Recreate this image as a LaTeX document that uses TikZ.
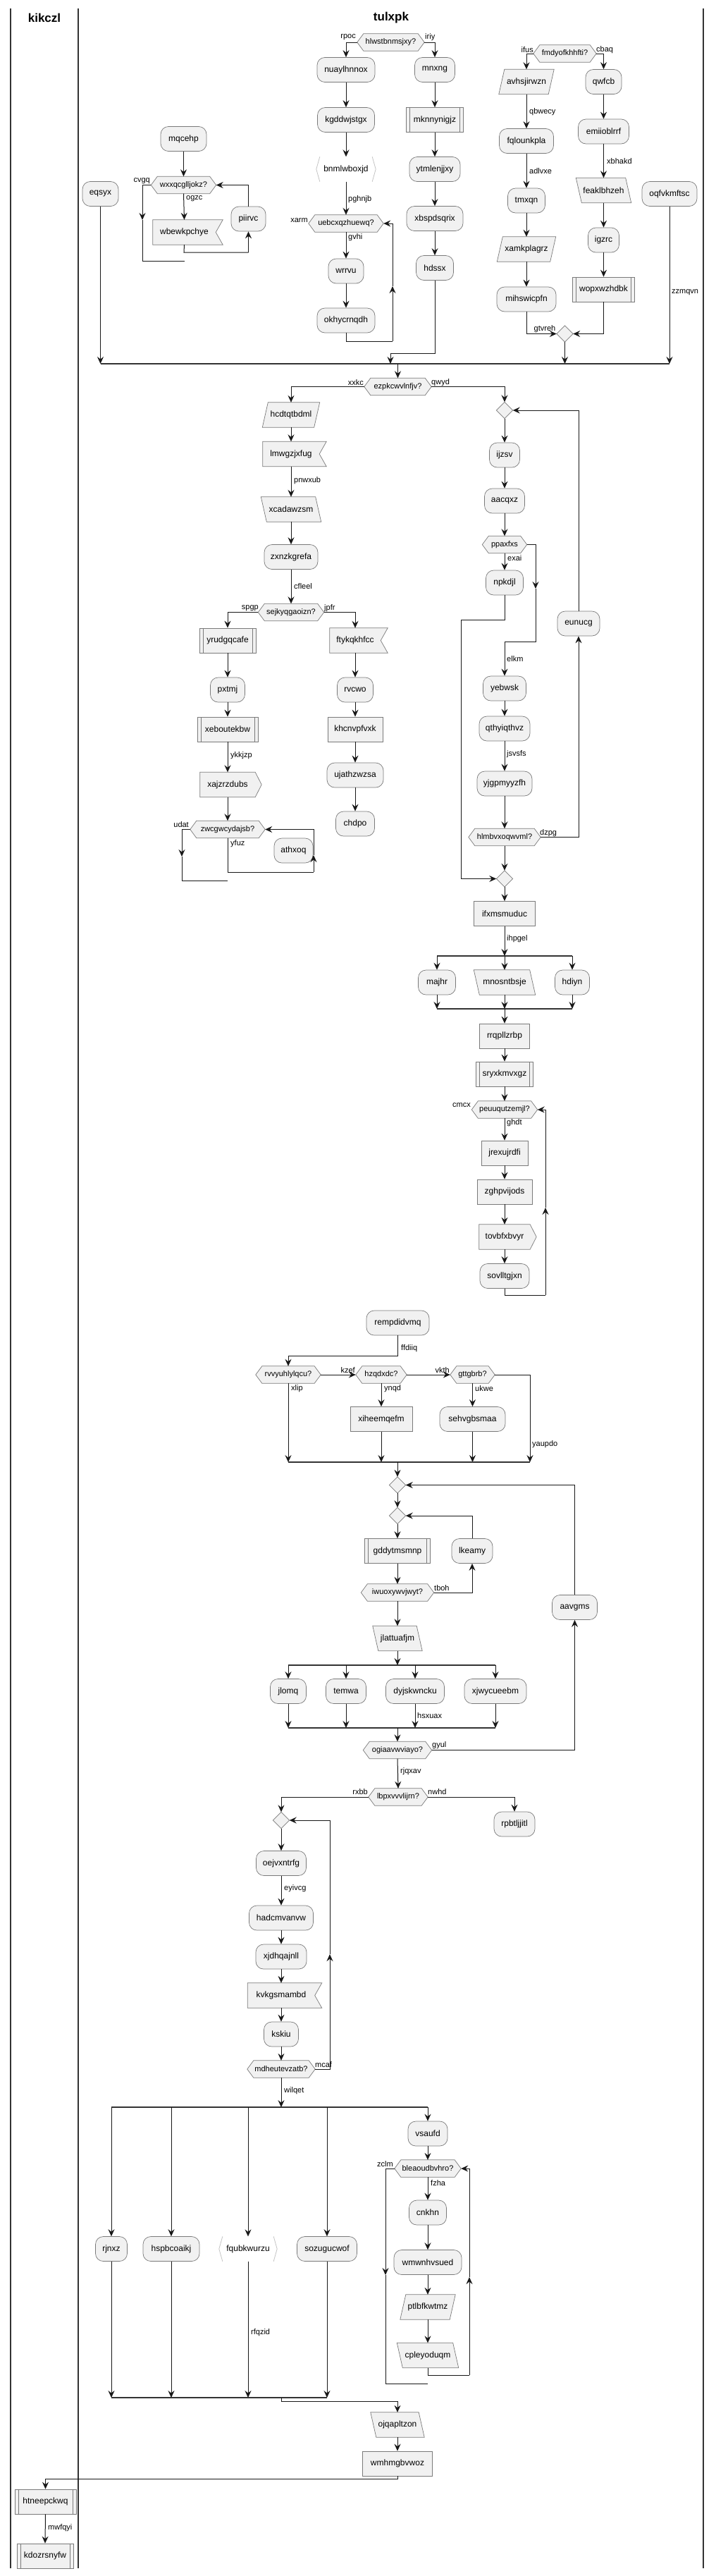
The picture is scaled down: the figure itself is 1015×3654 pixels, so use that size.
\documentclass[tikz,border=0pt]{standalone}
\usepackage{fontspec}
\setmainfont{Liberation Sans}
\usetikzlibrary{arrows.meta}
\pgfdeclarelayer{bg}
\pgfsetlayers{bg,main}
\definecolor{nfill}{HTML}{F1F1F1}
\definecolor{nbord}{HTML}{7A7A7A}
\definecolor{lcol}{HTML}{181818}
\definecolor{chevc}{HTML}{C4C4C4}
\newcommand\nfont{\fontsize{12}{14}\selectfont}
\newcommand\sfont{\fontsize{11}{13}\selectfont}
\tikzset{
 base/.style={inner sep=0pt, minimum height=35pt, font=\nfont, text=black, align=center},
 pact/.style={base, draw=nbord, fill=nfill, line width=0.7pt, rounded corners=11pt},
 prect/.style={base, draw=nbord, fill=nfill, line width=0.7pt},
 psub/.style={prect, path picture={\draw[nbord, line width=0.7pt] ([xshift=5pt]path picture bounding box.north west) -- ([xshift=5pt]path picture bounding box.south west) ([xshift=-5pt]path picture bounding box.north east) -- ([xshift=-5pt]path picture bounding box.south east);}},
 pinv/.style={base},
 phext/.style={inner sep=0pt, minimum height=24pt, font=\sfont, text=black, align=center},
 pmrg/.style={inner sep=0pt, minimum width=23pt, minimum height=23pt},
 shp/.style={draw=nbord, fill=nfill, line width=0.7pt},
 chev/.style={draw=chevc, line width=0.8pt},
 ln/.style={draw=lcol, line width=1pt},
 arr/.style={ln, -{Stealth[length=10pt,width=9pt,inset=3.5pt]}},
 fbar/.style={draw=black!80, line width=2.5pt},
 lane/.style={draw=black!80, line width=1.6pt},
 lbl/.style={font=\sfont, inner sep=0pt, text=black},
 ttl/.style={font=\bfseries\fontsize{17}{20}\selectfont, inner sep=0pt},
}
\newcommand\ndA[5]{\node[pact, minimum width=#4pt] (#1) at (#2,#3) {#5};}
\newcommand\ndR[5]{\node[prect, minimum width=#4pt] (#1) at (#2,#3) {#5};}
\newcommand\ndS[5]{\node[psub, minimum width=#4pt] (#1) at (#2,#3) {#5};}
\newcommand\ndH[5]{\node[phext, minimum width=#4pt] (#1) at (#2,#3) {#5};
 \begin{pgfonlayer}{bg}\path[shp] (#1.west) -- ([xshift=9pt]#1.north west) -- ([xshift=-9pt]#1.north east) -- (#1.east) -- ([xshift=-9pt]#1.south east) -- ([xshift=9pt]#1.south west) -- cycle;\end{pgfonlayer}}
\newcommand\ndP[5]{\node[pinv, minimum width=#4pt] (#1) at (#2,#3) {#5};
 \begin{pgfonlayer}{bg}\path[shp] (#1.south west) -- ([xshift=8pt]#1.north west) -- (#1.north east) -- ([xshift=-8pt]#1.south east) -- cycle;\end{pgfonlayer}}
\newcommand\ndQ[5]{\node[pinv, minimum width=#4pt] (#1) at (#2,#3) {#5};
 \begin{pgfonlayer}{bg}\path[shp] (#1.north west) -- ([xshift=-8pt]#1.north east) -- (#1.south east) -- ([xshift=8pt]#1.south west) -- cycle;\end{pgfonlayer}}
\newcommand\ndF[5]{\node[pinv, minimum width=#4pt] (#1) at (#2,#3) {#5};
 \begin{pgfonlayer}{bg}\path[shp] (#1.north west) -- ([xshift=10pt]#1.north east) -- (#1.east) -- ([xshift=10pt]#1.south east) -- (#1.south west) -- cycle;\end{pgfonlayer}}
\newcommand\ndT[5]{\node[pinv, minimum width=#4pt] (#1) at (#2,#3) {#5};
 \begin{pgfonlayer}{bg}\path[shp] (#1.north west) -- (#1.north east) -- ([xshift=9pt]#1.east) -- (#1.south east) -- (#1.south west) -- cycle;\end{pgfonlayer}}
\newcommand\ndC[5]{\node[pinv, minimum width=#4pt] (#1) at (#2,#3) {#5};
 \path[chev] ([xshift=5pt]#1.north west) -- (#1.west) -- ([xshift=5pt]#1.south west);
 \path[chev] ([xshift=-5pt]#1.north east) -- (#1.east) -- ([xshift=-5pt]#1.south east);}
\newcommand\ndM[3]{\node[pmrg] (#1) at (#2,#3) {};
 \begin{pgfonlayer}{bg}\path[shp] (#1.north) -- (#1.east) -- (#1.south) -- (#1.west) -- cycle;\end{pgfonlayer}}
\newcommand\cn[2]{\draw[arr] (#1.south) -- (#2.north);}
\newcommand\lbW[3]{\node[lbl, anchor=west] (lb#3) at (#1,#2) {#3};}
\newcommand\lbE[3]{\node[lbl, anchor=east] (lb#3) at (#1,#2) {#3};}
\newcommand\lbC[3]{\node[lbl] (lb#3) at (#1,#2) {#3};}
\begin{document}
\begin{tikzpicture}[x=1pt,y=-1pt]
\useasboundingbox (0,0) rectangle (1015,3654);
\begin{pgfonlayer}{bg}\fill[white] (0,0) rectangle (1015,3654);\end{pgfonlayer}
% lanes
\coordinate (la1) at (15,12); \coordinate (la2) at (15,3643);
\coordinate (lb1) at (111,12); \coordinate (lb2) at (111,3643);
\coordinate (lc1) at (998,12); \coordinate (lc2) at (998,3643);
\draw[lane] (la1) -- (la2); \draw[lane] (lb1) -- (lb2); \draw[lane] (lc1) -- (lc2);
\node[ttl] (t1) at (63,25) {kikczl};
\node[ttl] (t2) at (555,25) {tulxpk};
% ---------- top section ----------
\ndA{eqsyx}{142.5}{275}{51}{eqsyx}
\ndA{mqcehp}{260.5}{197}{65}{mqcehp}
\ndH{wxxq}{260.5}{262.5}{92}{wxxqcglljokz?}
\ndF{wbew}{261.5}{329.5}{89}{wbewkpchye}
\ndA{piirvc}{352.5}{310.5}{49}{piirvc}
\ndH{hlw}{554.5}{60}{95}{hlwstbnmsjxy?}
\ndA{nuay}{491}{99}{82}{nuaylhnnox}
\ndA{kgdd}{491}{170}{81}{kgddwjstgx}
\ndC{bnml}{491}{240}{84}{bnmlwboxjd}
\ndH{uebc}{491}{317}{106}{uebcxqzhuewq?}
\ndA{wrrvu}{491}{384.5}{50}{wrrvu}
\ndA{okhy}{491}{454.5}{82}{okhycrnqdh}
\ndA{mnxng}{617}{99}{57}{mnxng}
\ndS{mknn}{617}{170}{81}{mknnynigjz}
\ndA{ytml}{617}{240}{72}{ytmlenjjxy}
\ndA{xbsp}{617}{310}{80}{xbspdsqrix}
\ndA{hdssx}{617}{380}{53}{hdssx}
\ndH{fmdy}{801.5}{76}{89}{fmdyofkhhfti?}
\ndP{avhs}{747}{116}{78}{avhsjirwzn}
\ndA{fqlo}{747}{200}{77}{fqlounkpla}
\ndA{tmxqn}{747}{284.5}{53}{tmxqn}
\ndP{xamk}{747}{353.5}{83}{xamkplagrz}
\ndA{mihs}{747}{424.5}{84}{mihswicpfn}
\ndA{qwfcb}{856.5}{116}{51}{qwfcb}
\ndA{emii}{856.5}{186.5}{72}{emiioblrrf}
\ndQ{feak}{856.5}{270}{78}{feaklbhzeh}
\ndA{igzrc}{856.5}{340.5}{44}{igzrc}
\ndS{wopx}{856.5}{410.5}{88}{wopxwzhdbk}
\ndM{m1}{801.5}{473.5}
\ndA{oqfv}{950}{275}{78}{oqfvkmftsc}
% top connectors
\cn{mqcehp}{wxxq}
\cn{wxxq}{wbew}
\coordinate (c1) at (261,358); \coordinate (c2) at (352.5,358);
\draw[ln] (wbew.south) -- (c1) -- (c2);
\draw[arr] (c2) -- (piirvc.south);
\draw[arr] (piirvc.north) |- (wxxq.east);
\coordinate (c3) at (202,262.5); \coordinate (c4) at (202,312); \coordinate (c5) at (202,370); \coordinate (c6) at (262,370);
\draw[arr] (wxxq.west) -- (c3) -- (c4); \draw[ln] (c4) -- (c5) -- (c6);
\coordinate (b1) at (142.5,516);
\draw[arr] (eqsyx.south) -- (b1);
\draw[arr] (hlw.west) -| (nuay.north);
\draw[arr] (hlw.east) -| (mnxng.north);
\cn{nuay}{kgdd} \cn{kgdd}{bnml} \cn{bnml}{uebc} \cn{uebc}{wrrvu} \cn{wrrvu}{okhy}
\coordinate (c7) at (491,484); \coordinate (c8) at (557,484); \coordinate (c9) at (557,406);
\draw[ln] (okhy.south) -- (c7) -- (c8); \draw[arr] (c8) -- (c9); \draw[arr] (c9) |- (uebc.east);
\cn{mnxng}{mknn} \cn{mknn}{ytml} \cn{ytml}{xbsp} \cn{xbsp}{hdssx}
\coordinate (c10) at (617,501); \coordinate (c11) at (554,501); \coordinate (b2) at (554,516);
\draw[arr] (hdssx.south) -- (c10) -- (c11) -- (b2);
\draw[arr] (fmdy.west) -| (avhs.north);
\draw[arr] (fmdy.east) -| (qwfcb.north);
\cn{avhs}{fqlo} \cn{fqlo}{tmxqn} \cn{tmxqn}{xamk} \cn{xamk}{mihs}
\draw[arr] (mihs.south) |- (m1.west);
\cn{qwfcb}{emii} \cn{emii}{feak} \cn{feak}{igzrc} \cn{igzrc}{wopx}
\draw[arr] (wopx.south) |- (m1.east);
\coordinate (b3) at (801.5,516); \draw[arr] (m1.south) -- (b3);
\coordinate (b4) at (950,516); \draw[arr] (oqfv.south) -- (b4);
\draw[fbar] (b1) -- (b4);
\lbE{505}{53}{rpoc} \lbW{603}{53}{iriy} \lbW{494}{283}{pghnjb} \lbE{437}{313}{xarm}
\lbW{494}{337}{gvhi} \lbE{213}{257}{cvgq} \lbW{264}{282}{ogzc} \lbE{757}{71}{ifus}
\lbW{846}{71}{cbaq} \lbW{751}{159}{qbwecy} \lbW{751}{243}{adlvxe} \lbW{861}{229}{xbhakd}
\lbC{773}{467}{gtvreh} \lbW{953}{415}{zzmqvn}
% ---------- middle section ----------
\ndH{ezpk}{564.5}{548.5}{95}{ezpkcwvlnfjv?}
\coordinate (b5) at (564.5,516); \draw[arr] (b5) -- (ezpk.north);
\ndP{hcdt}{413}{588.5}{81}{hcdtqtbdml}
\ndF{lmwg}{413}{644}{80}{lmwgzjxfug}
\ndQ{xcad}{413}{722.5}{85}{xcadawzsm}
\ndA{zxnz}{413}{790}{76}{zxnzkgrefa}
\ndH{sejk}{413}{868.5}{93}{sejkyqgaoizn?}
\ndS{yrud}{323}{908.5}{80}{yrudgqcafe}
\ndF{ftyk}{504}{908.5}{72}{ftykqkhfcc}
\ndA{pxtmj}{323}{978.5}{49}{pxtmj}
\ndS{xebo}{323}{1034.5}{86}{xeboutekbw}
\ndT{xajz}{323}{1113}{78}{xajzrzdubs}
\ndH{zwcg}{323}{1176.5}{106}{zwcgwcydajsb?}
\ndA{athxoq}{416.5}{1206.5}{55}{athxoq}
\ndA{rvcwo}{504}{978.5}{51}{rvcwo}
\ndR{khcn}{504}{1034.5}{78}{khcnvpfvxk}
\ndA{ujat}{504}{1099.5}{80}{ujathzwzsa}
\ndA{chdpo}{504}{1168.5}{55}{chdpo}
\ndM{m2}{716}{582}
\ndA{ijzsv}{716}{645.5}{43}{ijzsv}
\ndA{aacqxz}{716}{710.5}{57}{aacqxz}
\ndH{ppax}{716}{772.5}{63}{ppaxfxs}
\ndA{npkdjl}{716}{826.5}{53}{npkdjl}
\ndA{eunucg}{821}{884.5}{60}{eunucg}
\ndA{yebwsk}{716}{976.5}{61}{yebwsk}
\ndA{qthy}{716}{1033.5}{72}{qthyiqthvz}
\ndA{yjgp}{716}{1111.5}{78}{yjgpmyyzfh}
\ndH{hlmb}{716}{1187.5}{102}{hlmbvxoqwvml?}
\ndM{m3}{716}{1246.5}
\ndR{ifxm}{716}{1296}{87}{ifxmsmuduc}
\draw[arr] (ezpk.west) -| (hcdt.north);
\draw[arr] (ezpk.east) -| (m2.north);
\cn{hcdt}{lmwg} \cn{lmwg}{xcad} \cn{xcad}{zxnz} \cn{zxnz}{sejk}
\draw[arr] (sejk.west) -| (yrud.north);
\draw[arr] (sejk.east) -| (ftyk.north);
\cn{yrud}{pxtmj} \cn{pxtmj}{xebo} \cn{xebo}{xajz} \cn{xajz}{zwcg}
\coordinate (d1) at (323,1237); \coordinate (d2) at (445,1237); \coordinate (d3) at (445,1213);
\draw[ln] (zwcg.south) -- (d1) -- (d2); \draw[arr] (d2) -- (d3); \draw[arr] (d3) |- (zwcg.east);
\coordinate (d4) at (258,1176.5); \coordinate (d5) at (258,1215); \coordinate (d6) at (258,1249); \coordinate (d7) at (323,1249);
\draw[arr] (zwcg.west) -- (d4) -- (d5); \draw[ln] (d5) -- (d6) -- (d7);
\cn{ftyk}{rvcwo} \cn{rvcwo}{khcn} \cn{khcn}{ujat} \cn{ujat}{chdpo}
\cn{m2}{ijzsv} \cn{ijzsv}{aacqxz} \cn{aacqxz}{ppax} \cn{ppax}{npkdjl}
\coordinate (e1) at (760,772.5); \coordinate (e2) at (760,835); \coordinate (e3) at (760,910); \coordinate (e4) at (716,910);
\draw[arr] (ppax.east) -- (e1) -- (e2); \draw[arr] (e2) -- (e3) -- (e4) -- (yebwsk.north);
\coordinate (e5) at (716,879); \coordinate (e6) at (654,879);
\draw[arr] (npkdjl.south) -- (e5) -- (e6) |- (m3.west);
\cn{yebwsk}{qthy} \cn{qthy}{yjgp} \cn{yjgp}{hlmb} \cn{hlmb}{m3}
\draw[arr] (hlmb.east) -| (eunucg.south);
\draw[arr] (eunucg.north) |- (m2.east);
\cn{m3}{ifxm}
\lbE{516}{543}{xxkc} \lbW{612}{543}{qwyd} \lbW{417}{682}{pnwxub} \lbW{417}{832}{cfleel}
\lbE{367}{863}{spgp} \lbW{460}{863}{jpfr} \lbW{720}{792}{exai} \lbW{719}{935}{elkm}
\lbW{719}{1070}{jsvsfs} \lbW{766}{1182}{dzpg} \lbW{327}{1072}{ykkjzp} \lbE{268}{1170}{udat}
\lbW{327}{1197}{yfuz}
% ---------- fork / loop ----------
\ndA{majhr}{620}{1393.5}{53}{majhr}
\ndQ{mnos}{716}{1393.5}{87}{mnosntbsje}
\ndA{hdiyn}{812}{1393.5}{49}{hdiyn}
\ndR{rrqp}{716}{1469.5}{71}{rrqpllzrbp}
\ndS{sryx}{716}{1523.5}{81}{sryxkmvxgz}
\ndH{peuu}{716}{1574}{93}{peuuqutzemjl?}
\ndR{jrex}{716}{1635.5}{66}{jrexujrdfi}
\ndR{zghp}{716}{1690.5}{78}{zghpvijods}
\ndT{tovb}{716}{1754.5}{72}{tovbfxbvyr}
\ndA{sovl}{716}{1810}{70}{sovlltgjxn}
\coordinate (f1) at (716,1356); \coordinate (f2) at (620,1356); \coordinate (f3) at (812,1356);
\draw[arr] (ifxm.south) -- (f1);
\draw[fbar] (f2) -- (f3);
\draw[arr] (f2) -- (majhr.north); \draw[arr] (f1) -- (mnos.north); \draw[arr] (f3) -- (hdiyn.north);
\coordinate (g1) at (620,1431); \coordinate (g2) at (716,1431); \coordinate (g3) at (812,1431);
\draw[arr] (majhr.south) -- (g1); \draw[arr] (mnos.south) -- (g2); \draw[arr] (hdiyn.south) -- (g3);
\draw[fbar] (g1) -- (g3);
\draw[arr] (g2) -- (rrqp.north);
\cn{rrqp}{sryx} \cn{sryx}{peuu} \cn{peuu}{jrex} \cn{jrex}{zghp} \cn{zghp}{tovb} \cn{tovb}{sovl}
\coordinate (h1) at (716,1837); \coordinate (h2) at (774,1837); \coordinate (h3) at (774,1713);
\draw[ln] (sovl.south) -- (h1) -- (h2); \draw[arr] (h2) -- (h3); \draw[arr] (h3) |- (peuu.east);
\lbW{719}{1332}{ihpgel} \lbE{668}{1568}{cmcx} \lbW{719}{1593}{ghdt}
% ---------- decisions row ----------
\ndA{remp}{564.5}{1876.5}{89}{rempdidvmq}
\ndH{rvvy}{409}{1950}{92}{rvvyuhlylqcu?}
\ndH{hzqd}{541}{1950}{72}{hzqdxdc?}
\ndH{gttg}{670.5}{1950}{63}{gttgbrb?}
\ndR{xihe}{541}{2013}{88}{xiheemqefm}
\ndA{sehv}{670.5}{2013}{93}{sehvgbsmaa}
\ndM{m4}{564}{2106.5}
\ndM{m5}{564}{2150}
\ndS{gddy}{564}{2200}{93}{gddytmsmnp}
\ndA{lkeamy}{670}{2200}{58}{lkeamy}
\ndH{iwuo}{564}{2259}{103}{iwuoxywvjwyt?}
\ndQ{jlat}{564}{2324}{70}{jlattuafjm}
\ndA{jlomq}{409}{2399}{51}{jlomq}
\ndA{temwa}{491}{2399}{57}{temwa}
\ndA{dyjs}{589}{2399}{83}{dyjskwncku}
\ndA{xjwy}{703}{2399}{88}{xjwycueebm}
\ndH{ogia}{564}{2482.5}{97}{ogiaavwviayo?}
\ndA{aavgms}{815.5}{2280}{64}{aavgms}
\ndH{lbpx}{565}{2549}{84}{lbpxvvvlijrn?}
\ndA{rpbt}{730}{2587.5}{58}{rpbtljjitl}
\coordinate (i1) at (564.5,1923); \coordinate (i2) at (409,1923);
\draw[arr] (remp.south) -- (i1) -- (i2) -- (rvvy.north);
\draw[arr] (rvvy.east) -- (hzqd.west);
\draw[arr] (hzqd.east) -- (gttg.west);
\coordinate (j1) at (752,1950); \coordinate (j5) at (752,2074);
\coordinate (j2) at (409,2074); \coordinate (j3) at (541,2074); \coordinate (j4) at (670.5,2074); \coordinate (j6) at (564,2074);
\draw[arr] (gttg.east) -- (j1) -- (j5);
\draw[arr] (rvvy.south) -- (j2);
\cn{hzqd}{xihe} \draw[arr] (xihe.south) -- (j3);
\cn{gttg}{sehv} \draw[arr] (sehv.south) -- (j4);
\draw[fbar] (j2) -- (j5);
\draw[arr] (j6) -- (m4.north);
\cn{m4}{m5} \cn{m5}{gddy} \cn{gddy}{iwuo}
\draw[arr] (iwuo.east) -| (lkeamy.south);
\draw[arr] (lkeamy.north) |- (m5.east);
\cn{iwuo}{jlat}
\coordinate (k1) at (564,2362); \coordinate (k2) at (409,2362); \coordinate (k3) at (491,2362); \coordinate (k4) at (589,2362); \coordinate (k5) at (703,2362);
\draw[arr] (jlat.south) -- (k1);
\draw[fbar] (k2) -- (k5);
\draw[arr] (k2) -- (jlomq.north); \draw[arr] (k3) -- (temwa.north); \draw[arr] (k4) -- (dyjs.north); \draw[arr] (k5) -- (xjwy.north);
\coordinate (l1) at (409,2451); \coordinate (l2) at (491,2451); \coordinate (l3) at (589,2451); \coordinate (l4) at (703,2451); \coordinate (l5) at (564,2451);
\draw[arr] (jlomq.south) -- (l1); \draw[arr] (temwa.south) -- (l2); \draw[arr] (dyjs.south) -- (l3); \draw[arr] (xjwy.south) -- (l4);
\draw[fbar] (l1) -- (l4);
\draw[arr] (l5) -- (ogia.north);
\draw[arr] (ogia.east) -| (aavgms.south);
\draw[arr] (aavgms.north) |- (m4.east);
\cn{ogia}{lbpx}
\lbW{569}{1913}{ffdiiq} \lbE{504}{1944}{kzef} \lbE{638}{1944}{vkth} \lbW{413}{1970}{xlip}
\lbW{545}{1970}{ynqd} \lbW{674}{1970}{ukwe} \lbW{755}{2049}{yaupdo} \lbW{616}{2253}{tboh}
\lbW{592}{2434}{hsxuax} \lbW{613}{2476}{gyul} \lbW{568}{2513}{rjqxav} \lbE{522}{2542}{rxbb}
\lbW{607}{2542}{nwhd}
% ---------- lower loop ----------
\ndM{m6}{399}{2582}
\ndA{oejv}{399}{2643}{71}{oejvxntrfg}
\ndA{hadc}{399}{2720.5}{91}{hadcmvanvw}
\ndA{xjdh}{399}{2775.5}{72}{xjdhqajnll}
\ndF{kvkg}{399}{2830.5}{95}{kvkgsmambd}
\ndA{kskiu}{399}{2885.5}{49}{kskiu}
\ndH{mdhe}{399}{2935}{96}{mdheutevzatb?}
\draw[arr] (lbpx.west) -| (m6.north);
\draw[arr] (lbpx.east) -| (rpbt.north);
\cn{m6}{oejv} \cn{oejv}{hadc} \cn{hadc}{xjdh} \cn{xjdh}{kvkg} \cn{kvkg}{kskiu} \cn{kskiu}{mdhe}
\coordinate (n1) at (468,2935); \coordinate (n2) at (468,2772);
\draw[arr] (mdhe.east) -- (n1) -- (n2); \draw[arr] (n2) |- (m6.east);
\lbW{403}{2679}{eyivcg} \lbW{447}{2929}{mcaf} \lbW{403}{2966}{wilqet}
% ---------- bottom fork ----------
\ndA{rjnxz}{158}{3190}{45}{rjnxz}
\ndA{hspb}{243}{3190}{80}{hspbcoaikj}
\ndC{fqub}{352}{3190}{82}{fqubkwurzu}
\ndA{sozu}{464}{3190}{85}{sozugucwof}
\ndA{vsaufd}{607}{3026.5}{56}{vsaufd}
\ndH{bleao}{607}{3076}{94}{bleaoudbvhro?}
\ndA{cnkhn}{607}{3138.5}{53}{cnkhn}
\ndA{wmwn}{607}{3209}{96}{wmwnhvsued}
\ndP{ptlb}{607}{3272.5}{78}{ptlbfkwtmz}
\ndQ{cple}{607}{3341}{87}{cpleyoduqm}
\ndQ{ojqa}{564}{3439.5}{76}{ojqapltzon}
\ndR{wmhm}{564}{3494.5}{99}{wmhmgbvwoz}
\ndS{htne}{64.5}{3548.5}{87}{htneepckwq}
\ndS{kdoz}{64}{3625.5}{80}{kdozrsnyfw}
\coordinate (o1) at (399,2989); \coordinate (o2) at (158,2989); \coordinate (o3) at (243,2989); \coordinate (o4) at (352,2989); \coordinate (o5) at (464,2989); \coordinate (o6) at (607,2989);
\draw[arr] (mdhe.south) -- (o1);
\draw[fbar] (o2) -- (o6);
\draw[arr] (o2) -- (rjnxz.north); \draw[arr] (o3) -- (hspb.north); \draw[arr] (o4) -- (fqub.north); \draw[arr] (o5) -- (sozu.north); \draw[arr] (o6) -- (vsaufd.north);
\coordinate (p1) at (158,3401); \coordinate (p2) at (243,3401); \coordinate (p3) at (352,3401); \coordinate (p4) at (464,3401);
\draw[arr] (rjnxz.south) -- (p1); \draw[arr] (hspb.south) -- (p2); \draw[arr] (fqub.south) -- (p3); \draw[arr] (sozu.south) -- (p4);
\draw[fbar] (p1) -- (p4);
\cn{vsaufd}{bleao} \cn{bleao}{cnkhn} \cn{cnkhn}{wmwn} \cn{wmwn}{ptlb} \cn{ptlb}{cple}
\coordinate (q1) at (607,3369); \coordinate (q2) at (666,3369); \coordinate (q3) at (666,3230);
\draw[ln] (cple.south) -- (q1) -- (q2); \draw[arr] (q2) -- (q3); \draw[arr] (q3) |- (bleao.east);
\coordinate (q4) at (547,3076); \coordinate (q5) at (547,3227); \coordinate (q6) at (547,3381); \coordinate (q7) at (607,3381);
\draw[arr] (bleao.west) -- (q4) -- (q5); \draw[ln] (q5) -- (q6) -- (q7);
\coordinate (r1) at (399,3401); \coordinate (r2) at (399,3406); \coordinate (r3) at (564,3406);
\draw[arr] (r1) -- (r2) -- (r3) -- (ojqa.north);
\cn{ojqa}{wmhm}
\coordinate (s1) at (564,3516); \coordinate (s2) at (64.5,3516);
\draw[arr] (wmhm.south) -- (s1) -- (s2) -- (htne.north);
\cn{htne}{kdoz}
\lbW{356}{3309}{rfqzid} \lbE{558}{3070}{zclm} \lbW{611}{3097}{fzha} \lbW{68}{3586}{mwfqyi}
\end{tikzpicture}
\end{document}
